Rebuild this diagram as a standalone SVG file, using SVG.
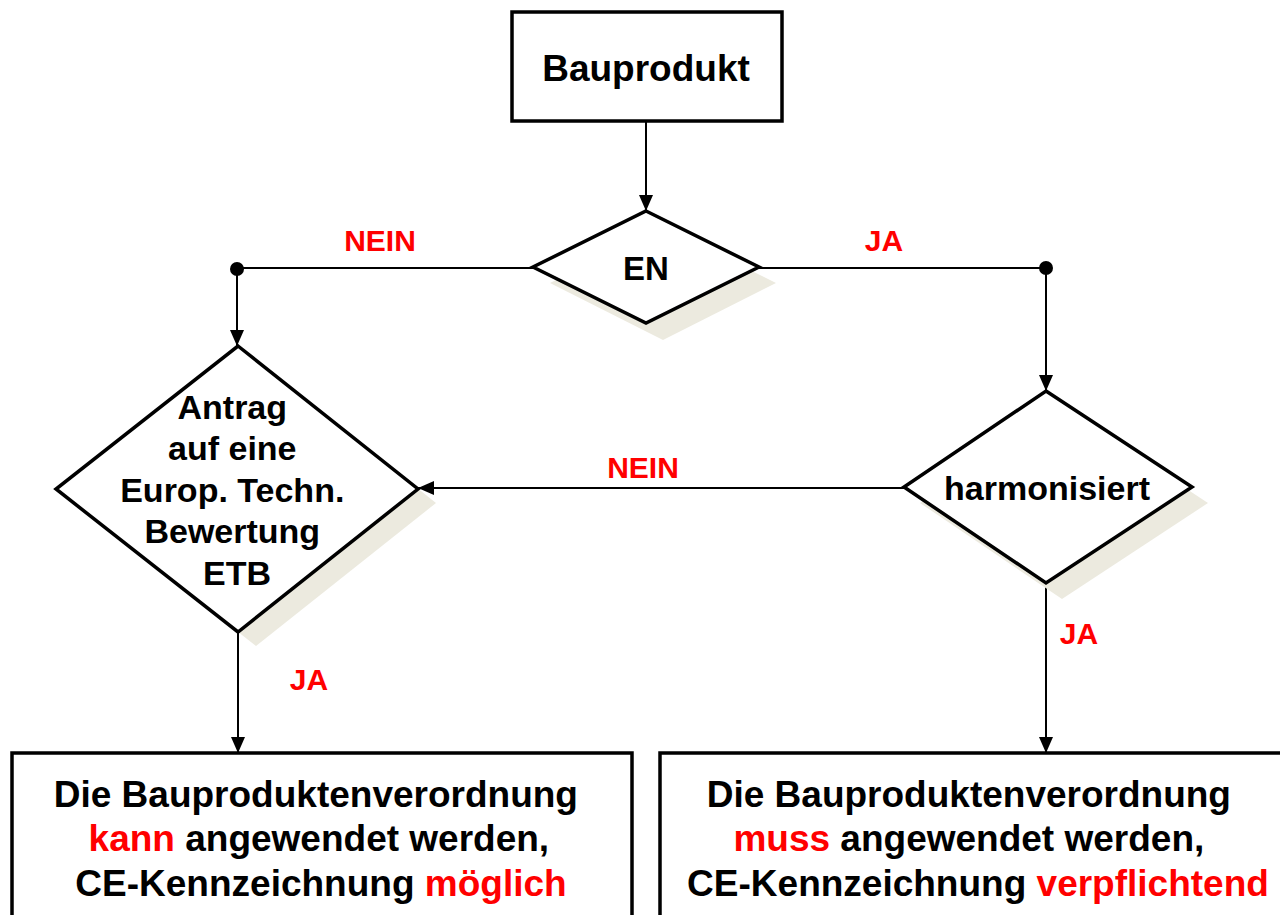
<svg xmlns="http://www.w3.org/2000/svg" width="1280" height="915" viewBox="0 0 1280 915">
  <defs>
    <marker id="arr" markerUnits="userSpaceOnUse" markerWidth="16" markerHeight="14" refX="16" refY="7" orient="auto">
      <path d="M0,0 L16,7 L0,14 z" fill="#000"/>
    </marker>
    <style>
      .box{fill:#fff;stroke:#000;stroke-width:3.5}
      .shadow{fill:#ECEADF;stroke:none}
      .t{font-family:"Liberation Sans",Arial,sans-serif;font-weight:bold;fill:#000;text-anchor:middle}
      .red{fill:#FF0000}
      .lbl{font-family:"Liberation Sans",Arial,sans-serif;font-weight:bold;fill:#FF0000;text-anchor:middle;font-size:30px}
      .c{fill:none;stroke:#000;stroke-width:2}
    </style>
  </defs>
  <rect width="1280" height="915" fill="#fff"/>

  <g id="connectors">
    <line class="c" x1="646" y1="122" x2="646" y2="211" marker-end="url(#arr)"/>
    <polyline class="c" points="533,268 237,268 237,346" marker-end="url(#arr)"/>
    <polyline class="c" points="759,268 1046,268 1046,391" marker-end="url(#arr)"/>
    <circle cx="237" cy="269" r="7" fill="#000"/>
    <circle cx="1046" cy="268" r="7" fill="#000"/>
    <line class="c" x1="904" y1="488" x2="418" y2="488" marker-end="url(#arr)"/>
    <line class="c" x1="238" y1="632" x2="238" y2="753" marker-end="url(#arr)"/>
    <line class="c" x1="1046" y1="583" x2="1046" y2="753" marker-end="url(#arr)"/>
    <text class="lbl" x="380" y="251">NEIN</text>
    <text class="lbl" x="884" y="251">JA</text>
    <text class="lbl" x="643" y="478">NEIN</text>
    <text class="lbl" x="1079" y="644">JA</text>
    <text class="lbl" x="309" y="690">JA</text>
  </g>

  <g id="bauprodukt">
    <rect class="box" x="512" y="12" width="270" height="109"/>
    <text class="t" x="646" y="81" font-size="37">Bauprodukt</text>
  </g>

  <g id="en">
    <polygon class="shadow" points="663,227 776,283 663,340 550,283"/>
    <polygon class="box" points="646,211 759,267 646,323 533,267"/>
    <text class="t" x="646" y="280" font-size="33">EN</text>
  </g>

  <g id="etb">
    <polygon class="shadow" points="256,360 436,503 256,646 74,503"/>
    <polygon class="box" points="238,346 418,489 238,632 56,489"/>
    <text class="t" font-size="34">
      <tspan x="237" y="419">Antrag</tspan>
      <tspan x="237" y="460">auf eine</tspan>
      <tspan x="237" y="502">Europ. Techn.</tspan>
      <tspan x="237" y="543">Bewertung</tspan>
      <tspan x="237" y="585">ETB</tspan>
    </text>
  </g>

  <g id="harmonisiert">
    <polygon class="shadow" points="1062,407 1208,503 1062,599 920,503"/>
    <polygon class="box" points="1046,391 1192,487 1046,583 904,487"/>
    <text class="t" x="1047" y="500" font-size="34">harmonisiert</text>
  </g>

  <g id="kann">
    <rect class="box" x="12" y="753" width="620" height="200"/>
    <text class="t" font-size="37">
      <tspan x="321" y="807">Die Bauproduktenverordnung</tspan>
      <tspan x="324" y="851"><tspan class="red">kann</tspan> angewendet werden,</tspan>
      <tspan x="321" y="896">CE-Kennzeichnung <tspan class="red">möglich</tspan></tspan>
    </text>
  </g>

  <g id="muss">
    <rect class="box" x="660" y="753" width="640" height="200"/>
    <text class="t" font-size="37">
      <tspan x="974" y="807">Die Bauproduktenverordnung</tspan>
      <tspan x="974" y="851"><tspan class="red">muss</tspan> angewendet werden,</tspan>
      <tspan x="978" y="896">CE-Kennzeichnung <tspan class="red">verpflichtend</tspan></tspan>
    </text>
  </g>
</svg>
